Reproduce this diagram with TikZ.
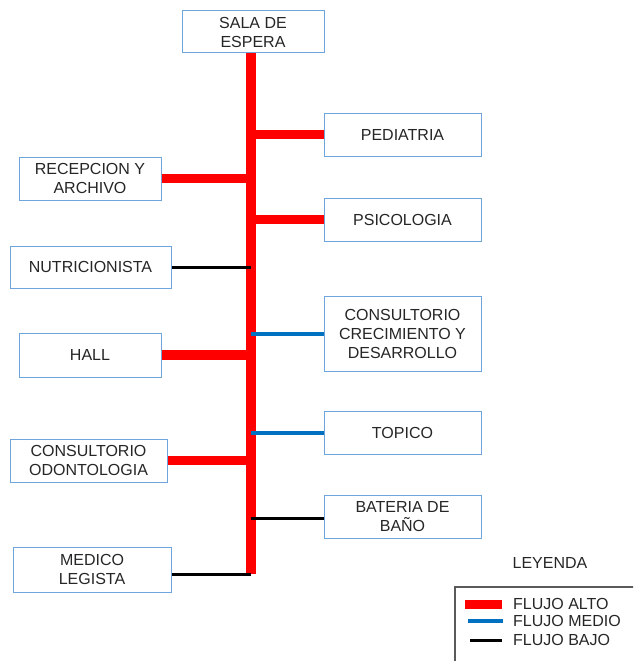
\documentclass[tikz,border=0pt]{standalone}
\usepackage{fontspec}
\setmainfont{Liberation Sans}
\definecolor{boxline}{RGB}{112,164,220}
\definecolor{txt}{RGB}{38,38,38}
\definecolor{rojo}{RGB}{255,0,0}
\definecolor{azul}{RGB}{0,112,192}
\definecolor{marco}{RGB}{90,90,90}
\begin{document}
\begin{tikzpicture}[x=1pt,y=-1pt,
  area/.style={draw=boxline,line width=1pt,fill=white,text=txt,align=center,
    inner sep=0pt,font=\fontsize{16}{19}\selectfont},
  alto/.style={draw=rojo,line width=9.5pt},
  medio/.style={draw=azul,line width=4pt},
  bajo/.style={draw=black,line width=3pt},
  leyenda/.style={text=txt,inner sep=0pt,font=\fontsize{16}{19}\selectfont}]
\useasboundingbox (0,0) rectangle (633,661);
\clip (0,0) rectangle (633,661);

% areas of the clinic
\node[area,minimum width=142pt,minimum height=42pt] (sala) at (253,32) {SALA DE\\ESPERA};
\node[area,minimum width=157pt,minimum height=43pt] (pedi) at (402.5,134.5) {PEDIATRIA};
\node[area,minimum width=142pt,minimum height=43pt] (recep) at (90,178.5) {RECEPCION Y\\ARCHIVO};
\node[area,minimum width=157pt,minimum height=43pt] (psico) at (402.5,219.5) {PSICOLOGIA};
\node[area,minimum width=161pt,minimum height=42pt] (nutri) at (90.5,267) {NUTRICIONISTA};
\node[area,minimum width=157pt,minimum height=75pt] (crec) at (402.5,333.5) {CONSULTORIO\\CRECIMIENTO Y\\DESARROLLO};
\node[area,minimum width=142pt,minimum height=44pt] (hall) at (90,355) {HALL};
\node[area,minimum width=157pt,minimum height=43pt] (topico) at (402.5,432.5) {TOPICO};
\node[area,minimum width=157pt,minimum height=43pt] (odonto) at (88.5,460.5) {CONSULTORIO\\ODONTOLOGIA};
\node[area,minimum width=157pt,minimum height=43pt] (bano) at (402.5,516.5) {BATERIA DE\\BAÑO};
\node[area,minimum width=158pt,minimum height=45pt] (medico) at (92,569.5) {MEDICO\\LEGISTA};

% main corridor
\coordinate (fin) at (251,574);
\draw[alto] (sala.south -| fin) -- (fin);

% branches to each area
\draw[alto] (fin |- pedi.west) -- (pedi.west);
\draw[alto] (recep.east) -- (recep.east -| fin);
\draw[alto] (fin |- psico.west) -- (psico.west);
\draw[bajo] (nutri.east) -- (nutri.east -| fin);
\draw[medio] (fin |- crec.west) -- (crec.west);
\draw[alto] (hall.east) -- (hall.east -| fin);
\draw[medio] (fin |- topico.west) -- (topico.west);
\draw[alto] (odonto.east) -- (odonto.east -| fin);
\draw[bajo] ([yshift=-1.5pt]fin |- bano.west) -- ([yshift=-1.5pt]bano.west);
\draw[bajo] (medico.east |- fin) -- (fin);

% legend
\node[leyenda] (ley) at (550,563) {LEYENDA};
\draw[marco,line width=1.2pt] (455,700) -- (455,587) -- (660,587);
\node[leyenda,anchor=west] (la) at (513,604) {FLUJO ALTO};
\node[leyenda,anchor=west] (lm) at (513,621) {FLUJO MEDIO};
\node[leyenda,anchor=west] (lb) at (513,640) {FLUJO BAJO};
\draw[alto,line width=9pt] ([xshift=-48pt]la.west) -- ([xshift=-11pt]la.west);
\draw[medio] ([xshift=-45pt]lm.west) -- ([xshift=-10pt]lm.west);
\draw[bajo] ([xshift=-43pt]lb.west) -- ([xshift=-11pt]lb.west);
\end{tikzpicture}
\end{document}
